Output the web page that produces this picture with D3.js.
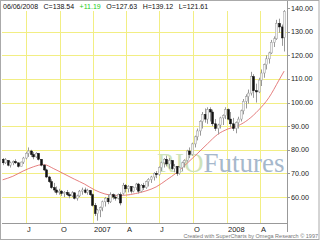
<!DOCTYPE html>
<html>
    <head>
        <style>
            body{ margin: 0; background: #fff; }
            text{ font-family: "Liberation Sans", Arial, sans-serif; }
        </style>
        <script src="https://d3js.org/d3.v7.min.js"></script>
    </head>
    <body>
        <script>
        // weekly bars, Fri 28 Apr 2006 .. Fri 6 Jun 2008
        const opens = [76,74.5,75.5,73.5,74.5,75,74.5,73,74.8,76.5,
            78.5,79.5,78,77,78.5,76,73.5,71.5,68.5,66.5,
            64,63,62,62.5,61.5,62,61,60.5,61.8,59.5,
            60.5,62.5,63,62,62.8,61,56.5,53,54.5,55.5,
            58,59.5,58,61,60,59.5,61,61.5,65,63.5,
            64.5,62.5,64,65.5,62.5,65,64,66.5,67.5,68.5,
            70,69.5,72.5,74.5,76,74,75.5,72,73,70,
            72.5,74.5,75.5,79.5,78,82.5,85.5,88,92,95,
            93,97,96,91,89,90.5,93.5,94.5,97,93,
            91,89,91.5,93,96.5,100.5,102.5,104,111,105,
            104.5,109.5,112.5,116,118.5,121,125.5,127,133.5,132,
            127.63]
        const highs = [76.5,76.5,75.5,75,75.5,76,74.5,75,77,79,
            81,80,79,79,78.5,76,74,72,69,67.5,
            66,64.5,63.5,63,62.5,63,62,62.5,62,61,
            63,64,64,63.5,63,61.5,57.5,55,56,58.5,
            60,61,62,61.5,61,61.5,62,66,65.5,65,
            64.5,64.5,66,66,65.5,66,67,68,69,70.5,
            71,73,75,76.5,77.5,76.5,75.5,74,73,73,
            75,76,80,81,83,86,89,92.5,96,97.5,
            98,98,97,93,91,94,95,98,97.5,96,
            93.5,92,94,97,101.5,103.5,105.5,113,112,108,
            110.5,114,116.5,120,121.5,126.5,128,135,135.5,133,
            139.12]
        const lows = [73.5,74,73,72.5,73.5,74,72.5,73,74,76,
            77,77,76,76.5,75.5,73,71,68,66,63.5,
            62,61,61,60.5,60,60.5,59.5,60,59,58.5,
            60,61,61.5,61,60.5,56,52,50,51.5,54,
            56,57,57.5,59,58.5,59,56.5,61,62,62,
            61.5,62,63,61.5,62,63,63.5,64.5,66,67,
            68,69,71,72.5,73,72,71.5,70.5,69,69.5,
            71,72.5,75,76.5,77.5,81,84,86,89,91.5,
            91,92,90,88,86.5,89,90.5,93,92.5,89.5,
            88,87,89,92,95,97.5,99.5,103,102,100,
            104,107,110.5,114,116.5,120.5,123.5,126.5,129.5,124,
            121.61]
        const closes = [74.5,75.8,73.5,74.5,75,74.5,73,74.8,76.5,78.5,
            79.5,78,77,78.5,76,73.5,71.5,68.5,66.5,64,
            63,62,62.5,61.5,62,61,60.5,61.8,59.5,60.5,
            62.5,63,62,62.8,61,56.5,53,54.5,55.5,58,
            59.5,58,61,60,59.5,61,57.5,65,63.5,64.5,
            62.5,64,65.5,62.5,65,64,66.5,67.5,68.5,70,
            69.5,72.5,74.5,76,74,75.5,72,73,70,72.5,
            74.5,75.5,79.5,78,82.5,85.5,88,92,95,93,
            97,96,91,89,90.5,93.5,94.5,97,93,91,
            89,91.5,93,96.5,100.5,102.5,104,111,105,104.5,
            109.5,112.5,116,118.5,121,125.5,127,133.5,132,127.35,
            138.54]

        // moving average, read every 4th week
        const maWeek = [0,4,8,12,16,20,24,28,32,36,40,44,48,52,56,60,64,68,72,76,80,84,88,92,96,100,104,108,110]
        const maValue = [67.3,68.8,71,72.8,73.8,72,69.8,67.6,65.5,63,61.3,60.7,60.8,61.5,62.6,64.3,67.2,70.3,74.2,78.3,82.5,86.5,88.8,90.2,92.8,96.8,102,109.5,113.3]

        const yTicks = [60,70,80,90,100,110,120,130,140]
        const gridValues = [60,70,80,90,100,110,120,130]
        const header = ["06/06/2008","C=138.54","+11.19","O=127.63","H=139.12","L=121.61"]
        const footer = "Created with SuperCharts by Omega Research \u00a9 1997"

        const weeks = d3.timeFriday.range(new Date(2006,3,28), new Date(2008,5,7))
        const bars = weeks.map((d,i) => ({date:d, o:opens[i], h:highs[i], l:lows[i], c:closes[i]}))

        const w = 320, h = 244
        const svg = d3.select("body").append("svg")
                    .attr("width",w)
                    .attr("height",h)

        const x = d3.scaleTime()
                    .domain([new Date(2006,6,1), new Date(2008,3,1)])
                    .range([26,260])
        const y = d3.scaleLinear()
                    .domain([48.6,143.4])
                    .range([224,0])

        svg.append("rect").attr("width",w).attr("height",h).attr("fill","#fff")

        svg.append("clipPath").attr("id","plot")
            .append("rect").attr("x",2).attr("y",0).attr("width",285).attr("height",223)

        const grid = svg.append("g").attr("stroke","#f2ee84").attr("stroke-width",1)
        grid.selectAll("line.v")
            .data(x.ticks(d3.timeMonth.every(3)))
            .enter().append("line")
            .attr("x1",d => Math.round(x(d))+0.5)
            .attr("x2",d => Math.round(x(d))+0.5)
            .attr("y1",11).attr("y2",223)
        grid.selectAll("line.h")
            .data(gridValues)
            .enter().append("line")
            .attr("x1",2).attr("x2",287)
            .attr("y1",d => Math.round(y(d))+0.5)
            .attr("y2",d => Math.round(y(d))+0.5)

        // watermark, one word in two colours
        const wm = svg.append("text").attr("x",157).attr("y",172)
            .style("font-family","'Liberation Serif', serif").style("font-size","27px")
        wm.append("tspan").attr("fill","#cfe3ba").text("RIO")
        wm.append("tspan").attr("fill","#a6b8cc").text("Futures")

        const plot = svg.append("g").attr("clip-path","url(#plot)")

        plot.append("path")
            .datum(maWeek.map((k,i) => [weeks[k], maValue[i]]))
            .attr("fill","none")
            .attr("stroke","#e27070")
            .attr("stroke-width",0.9)
            .attr("d", d3.line().x(d => x(d[0])).y(d => y(d[1])).curve(d3.curveMonotoneX))

        const bar = plot.selectAll("g.bar")
            .data(bars)
            .enter().append("g")
        bar.append("rect")
            .attr("x",d => Math.round(x(d.date)))
            .attr("width",1)
            .attr("y",d => y(d.h))
            .attr("height",d => y(d.l) - y(d.h))
            .attr("fill","#999")
        bar.append("rect")
            .attr("x",d => Math.round(x(d.date)) - 0.5)
            .attr("width",2)
            .attr("y",d => y(Math.max(d.o,d.c)))
            .attr("height",d => Math.max(1, Math.abs(y(d.o) - y(d.c))))
            .attr("fill",d => d.c < d.o ? "#111" : "#f4f4f4")
            .attr("stroke",d => d.c < d.o ? "#111" : "#999")
            .attr("stroke-width",0.5)

        // axes lines
        svg.append("line").attr("x1",2).attr("x2",287).attr("y1",223.5).attr("y2",223.5).attr("stroke","#999")
        svg.append("line").attr("x1",287.5).attr("x2",287.5).attr("y1",0).attr("y2",232).attr("stroke","#999")

        const yAxis = svg.append("g")
        yAxis.selectAll("line")
            .data(yTicks).enter().append("line")
            .attr("x1",287).attr("x2",290)
            .attr("y1",d => Math.round(y(d))+0.5)
            .attr("y2",d => Math.round(y(d))+0.5)
            .attr("stroke","#999")
        yAxis.selectAll("text")
            .data(yTicks).enter().append("text")
            .attr("x",291)
            .attr("y",d => y(d))
            .attr("dy","0.35em")
            .style("font-size","7.2px")
            .attr("fill","#222")
            .text(d => d3.format(".2f")(d))

        const mon = "JFMAMJJASOND"
        svg.selectAll("text.xl")
            .data(x.ticks(d3.timeMonth.every(3)))
            .enter().append("text")
            .attr("x",d => Math.round(x(d))+1)
            .attr("y",232)
            .style("font-size","7.5px")
            .attr("fill","#222")
            .text(d => d.getMonth() == 0 ? d.getFullYear() : mon[d.getMonth()])

        // header line
        let hx = 3
        header.forEach((s,i) => {
            const t = svg.append("text")
                .attr("x",hx).attr("y",8.5)
                .style("font-size","7px")
                .attr("fill", i == 2 ? "#22cc22" : "#111")
                .text(s)
            hx += t.node().getComputedTextLength() + 5.5
        })

        svg.append("text")
            .attr("x",318).attr("y",238)
            .attr("text-anchor","end")
            .style("font-size","5.5px")
            .attr("fill","#777")
            .text(footer)

        // frame
        svg.append("rect").attr("x",0.5).attr("y",0.5).attr("width",318.5).attr("height",239)
            .attr("fill","none").attr("stroke","#aaa")
        </script>
    </body>
</html>
